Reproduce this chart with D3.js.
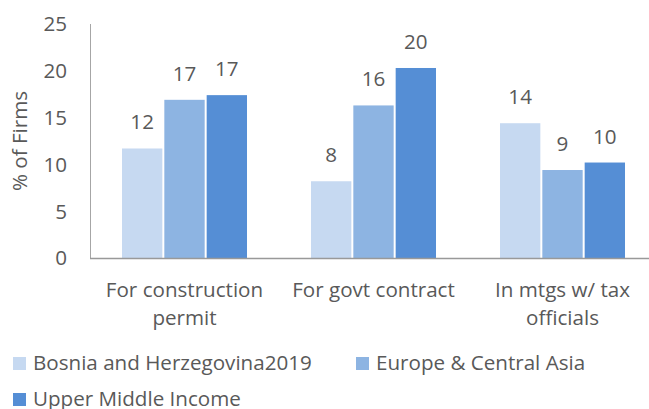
<!DOCTYPE html>
<html>
<head>
<meta charset="utf-8">
<script src="https://cdn.jsdelivr.net/npm/d3@7"></script>
<style>
  body { margin: 0; background: #fff; }
  text { font-family: "Open Sans", sans-serif; fill: #595959; }
</style>
</head>
<body>
<svg id="chart"></svg>
<script>
/** * * * DATA * * * */
const categories = [["For construction", "permit"], ["For govt contract"], ["In mtgs w/ tax", "officials"]];
const seriesNames = ["Bosnia and Herzegovina2019", "Europe & Central Asia", "Upper Middle Income"];
const bosnia = [11.7, 8.2, 14.4];
const eca = [16.9, 16.3, 9.4];
const umi = [17.4, 20.3, 10.2];
const yTicks = [0, 5, 10, 15, 20, 25];

const colors = ["#c6d9f1", "#8db4e2", "#558ed5"];
const width = 649;
const height = 409;
const fontSize = 20.6;

const svg = d3.select('#chart')
  .attr('width', width)
  .attr('height', height);

const catKeys = categories.map(c => c.join(' '));
const values = [bosnia, eca, umi];

// scales
const x0 = d3.scaleBand()
  .domain(catKeys)
  .range([90, 657])
  .paddingInner(0.328)
  .paddingOuter(0.164);

const x1 = d3.scaleBand()
  .domain(seriesNames)
  .range([0, x0.bandwidth()]);

const y = d3.scaleLinear()
  .domain([0, 25])
  .range([258, 24]);

// y axis tick labels
svg.append('g')
  .selectAll('text')
  .data(yTicks)
  .enter()
  .append('text')
  .attr('x', 67)
  .attr('y', d => y(d))
  .attr('dy', '0.36em')
  .attr('text-anchor', 'end')
  .style('font-size', fontSize + 'px')
  .text(d => d);

// y axis line
svg.append('line')
  .attr('x1', 90.5).attr('x2', 90.5)
  .attr('y1', y(25)).attr('y2', y(0))
  .attr('stroke', '#a6a6a6')
  .attr('stroke-width', 1);

// y axis title
svg.append('text')
  .attr('transform', `translate(27, ${(y(0) + y(25)) / 2}) rotate(-90)`)
  .attr('text-anchor', 'middle')
  .style('font-size', fontSize + 'px')
  .text('% of Firms');

// bars
const groups = svg.append('g')
  .selectAll('g')
  .data(catKeys)
  .enter()
  .append('g')
  .attr('transform', d => `translate(${x0(d)},0)`);

groups.selectAll('rect')
  .data((d, i) => seriesNames.map((s, j) => ({ series: s, value: values[j][i], j: j })))
  .enter()
  .append('rect')
  .attr('x', d => x1(d.series) + 1)
  .attr('y', d => y(d.value))
  .attr('width', x1.bandwidth() - 2)
  .attr('height', d => y(0) - y(d.value))
  .attr('fill', d => colors[d.j]);

// data labels
groups.selectAll('text')
  .data((d, i) => seriesNames.map((s, j) => ({ series: s, value: values[j][i] })))
  .enter()
  .append('text')
  .attr('x', d => x1(d.series) + x1.bandwidth() / 2)
  .attr('y', d => y(d.value) - 19)
  .attr('text-anchor', 'middle')
  .style('font-size', fontSize + 'px')
  .text(d => Math.round(d.value));

// x axis line
svg.append('line')
  .attr('x1', 90).attr('x2', width)
  .attr('y1', y(0) + 0.5).attr('y2', y(0) + 0.5)
  .attr('stroke', '#999')
  .attr('stroke-width', 1.5);

// category labels
const catLabels = svg.append('g')
  .selectAll('text')
  .data(categories)
  .enter()
  .append('text')
  .attr('x', (d, i) => x0(catKeys[i]) + x0.bandwidth() / 2)
  .attr('y', 297)
  .attr('text-anchor', 'middle')
  .style('font-size', fontSize + 'px');

catLabels.selectAll('tspan')
  .data(d => d)
  .enter()
  .append('tspan')
  .attr('x', function() { return d3.select(this.parentNode).attr('x'); })
  .attr('dy', (d, i) => i === 0 ? 0 : 28)
  .text(d => d);

// legend
const legendPos = [[13, 357], [356, 357], [13, 393]];
const legend = svg.append('g')
  .selectAll('g')
  .data(seriesNames)
  .enter()
  .append('g')
  .attr('transform', (d, i) => `translate(${legendPos[i][0]},${legendPos[i][1]})`);

legend.append('rect')
  .attr('width', 13)
  .attr('height', 13)
  .attr('fill', (d, i) => colors[i]);

legend.append('text')
  .attr('x', 20)
  .attr('y', 13)
  .style('font-size', fontSize + 'px')
  .text(d => d);
</script>
</body>
</html>
